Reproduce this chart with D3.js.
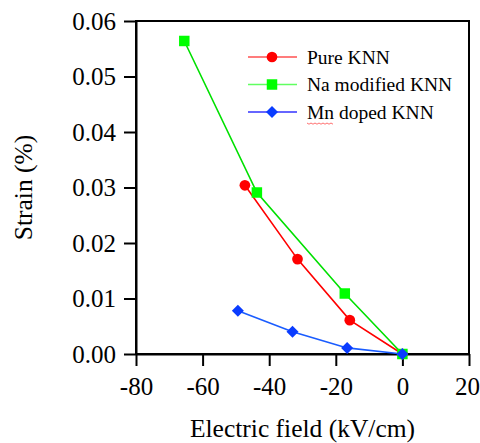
<!DOCTYPE html>
<html>
<head>
<meta charset="utf-8">
<script src="https://cdn.jsdelivr.net/npm/d3@7"></script>
<style>
  body { margin: 0; background: #fff; }
  svg text { font-family: "Liberation Serif", "DejaVu Serif", serif !important; fill: #000; }
</style>
</head>
<body>
<svg id="chart" width="480" height="443"></svg>
<script>
// data
const pureField = [-47.3, -31.5, -15.8, 0];
const pureStrain = [0.0304, 0.0171, 0.0061, 0];
const naField = [-65.5, -43.7, -17.3, 0];
const naStrain = [0.0564, 0.0291, 0.0109, 0];
const mnField = [-49.4, -33.0, -16.6, 0];
const mnStrain = [0.0078, 0.0040, 0.0011, 0];

const seriesNames = ["Pure KNN", "Na modified KNN", "Mn doped KNN"];
const xTicks = [-80, -60, -40, -20, 0, 20];
const yTicks = [0, 0.01, 0.02, 0.03, 0.04, 0.05, 0.06];

const margin = { left: 136, right: 11, top: 21, bottom: 89 };
const width = 480, height = 443;

const svg = d3.select("#chart");

const x = d3.scaleLinear().domain([-80, 20]).range([margin.left, width - margin.right]);
const y = d3.scaleLinear().domain([0, 0.06]).range([height - margin.bottom, margin.top]);

const series = [
  { name: seriesNames[0], xs: pureField, ys: pureStrain, line: "#ff0000", fill: "#ff0000", legendLine: "#ff5050", shape: d3.symbolCircle, size: 90, rot: 0 },
  { name: seriesNames[1], xs: naField, ys: naStrain, line: "#00e000", fill: "#00ff00", legendLine: "#60ff60", shape: d3.symbolSquare, size: 110, rot: 0 },
  { name: seriesNames[2], xs: mnField, ys: mnStrain, line: "#1a5cff", fill: "#0a3cff", legendLine: "#3333ff", shape: d3.symbolSquare, size: 72, rot: 45 }
];

// frame
svg.append("rect")
  .attr("x", x(-80)).attr("y", y(0.06))
  .attr("width", x(20) - x(-80)).attr("height", y(0) - y(0.06))
  .attr("fill", "none").attr("stroke", "#000").attr("stroke-width", 2);

// axes
const xAxis = d3.axisBottom(x).tickValues(xTicks).tickSize(12).tickSizeOuter(0).tickFormat(d3.format("d"));
const gx = svg.append("g")
  .attr("transform", `translate(0, ${y(0)})`)
  .call(xAxis);
gx.attr("font-family", null);
gx.select(".domain").attr("stroke-width", 2);
gx.selectAll(".tick line").attr("stroke-width", 2);
gx.selectAll("text")
  .attr("font-size", 25)
  .attr("dy", "1.05em")
  .attr("dx", d => d === 20 ? -2 : 0) // keep the last label inside the page
  .text(d => d < 0 ? "-" + Math.abs(d) : d);

const yAxis = d3.axisLeft(y).tickValues(yTicks).tickSize(12).tickSizeOuter(0).tickFormat(d3.format(".2f"));
const gy = svg.append("g")
  .attr("transform", `translate(${x(-80)}, 0)`)
  .call(yAxis);
gy.attr("font-family", null);
gy.select(".domain").attr("stroke-width", 2);
gy.selectAll(".tick line").attr("stroke-width", 2);
gy.selectAll("text")
  .attr("font-size", 25)
  .attr("x", -20)
  .attr("dy", "0.33em");

// axis titles
svg.append("text")
  .attr("x", (x(-80) + x(20)) / 2)
  .attr("y", 437)
  .attr("text-anchor", "middle")
  .attr("font-size", 25.5)
  .text("Electric field (kV/cm)");

svg.append("text")
  .attr("transform", `translate(32, ${y(0.03)}) rotate(-90)`)
  .attr("text-anchor", "middle")
  .attr("font-size", 25.5)
  .text("Strain (%)");

// lines and markers
const line = d3.line().x(d => x(d[0])).y(d => y(d[1]));

series.forEach(s => {
  const pts = s.xs.map((v, i) => [v, s.ys[i]]);
  svg.append("path")
    .datum(pts)
    .attr("d", line)
    .attr("fill", "none")
    .attr("stroke", s.line)
    .attr("stroke-width", 1.6);
});

series.forEach(s => {
  const pts = s.xs.map((v, i) => [v, s.ys[i]]);
  svg.selectAll(null)
    .data(pts)
    .enter()
    .append("path")
    .attr("transform", d => `translate(${x(d[0])}, ${y(d[1])}) rotate(${s.rot})`)
    .attr("d", d3.symbol().type(s.shape).size(s.size))
    .attr("fill", s.fill);
});

// legend
const legend = svg.append("g").attr("transform", "translate(248, 57)");
series.forEach((s, i) => {
  const row = legend.append("g").attr("transform", `translate(0, ${i * 27.5})`);
  row.append("line")
    .attr("x1", 0).attr("x2", 49)
    .attr("stroke", s.legendLine).attr("stroke-width", 1.6);
  row.append("path")
    .attr("transform", `translate(24, 0) rotate(${s.rot})`)
    .attr("d", d3.symbol().type(s.shape).size(s.size))
    .attr("fill", s.fill);
  row.append("text")
    .attr("x", 59)
    .attr("dy", "0.35em")
    .attr("font-size", 19.5)
    .text(s.name);

  // red spell-check squiggle under "Mn", as in the original
  if (s.name.startsWith("Mn")) {
    const w = 19.5 * 1.39;
    const zig = d3.range(0, w + 0.1, 2).map((v, k) => [59 + v, 11 + (k % 2 ? 1.2 : 0)]);
    row.append("path")
      .attr("d", d3.line()(zig))
      .attr("fill", "none")
      .attr("stroke", "#ff6060")
      .attr("stroke-width", 0.9);
  }
});
</script>
</body>
</html>
